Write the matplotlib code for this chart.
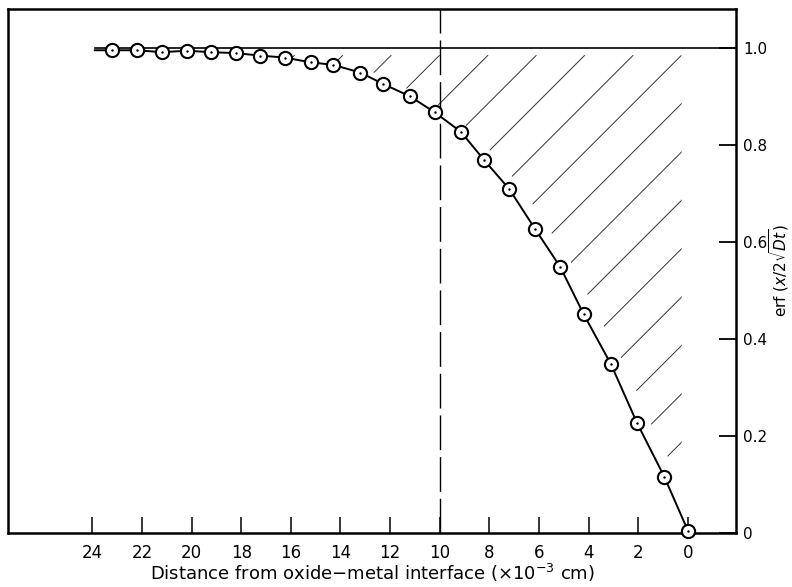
import numpy as np
import matplotlib
matplotlib.use('Agg')
import matplotlib.pyplot as plt
from matplotlib.collections import LineCollection
from matplotlib.patches import Polygon

# distance from interface (x10^-3 cm) and erf values
distance = [23.2, 22.2, 21.2, 20.2, 19.2, 18.2, 17.25, 16.25, 15.2, 14.3, 13.2, 12.3,
            11.2, 10.2, 9.15, 8.2, 7.2, 6.15, 5.15, 4.2, 3.1, 2.05, 0.95, 0.0]
erf_val = [0.995, 0.995, 0.991, 0.994, 0.991, 0.989, 0.984, 0.980, 0.970, 0.965, 0.949, 0.926,
           0.900, 0.867, 0.827, 0.768, 0.709, 0.626, 0.549, 0.451, 0.348, 0.227, 0.116, 0.005]

curve_start = 23.9     # where the drawn curve and the 1.0 line begin
marker_line_x = 10     # dashed vertical
hatch_right = 0.25     # right edge of hatched area
hatch_top = 0.985
hatch_step = 1.95

x_ticks = [24, 22, 20, 18, 16, 14, 12, 10, 8, 6, 4, 2, 0]
y_ticks = [0, 0.2, 0.4, 0.6, 0.8, 1.0]
y_ticklabels = ['0', '0.2', '0.4', '0.6', '0.8', '1.0']

XLIM = (27.4, -1.94)
YLIM = (0, 1.08)

plt.rcParams['font.family'] = 'DejaVu Sans'
plt.rcParams['mathtext.default'] = 'regular'

fig = plt.figure(figsize=(7.92, 5.87), dpi=100)
ax = fig.add_axes([8 / 792, 54 / 587, 728 / 792, 524 / 587])
ax.set_xlim(*XLIM)
ax.set_ylim(*YLIM)

# curve + points
ax.plot([curve_start] + distance, [erf_val[0]] + erf_val, '-', color='black', lw=1.4, zorder=3)
ax.plot(distance, erf_val, 'o', ms=9.5, mfc='white', mec='black', mew=1.5, zorder=4, clip_on=False)
ax.plot(distance, erf_val, '.', ms=1.5, color='black', zorder=5, clip_on=False)

# reference lines
ax.plot([curve_start, XLIM[1]], [1.0, 1.0], '-', color='black', lw=1.2, zorder=2)
ax.axvline(marker_line_x, color='black', lw=1.0, dashes=(25, 5), zorder=2)

# hatched area between the curve and 1.0, drawn as sparse 45 degree strokes
gap = 0.55
dx = np.array(distance) - gap
dy = np.array(erf_val)
keep = (dx > hatch_right) & (np.array(distance) < 17)
y_at_right = np.interp(hatch_right, dx[::-1], dy[::-1])
poly_x = list(dx[keep]) + [hatch_right, hatch_right, 17]
poly_y = list(dy[keep]) + [y_at_right, hatch_top, hatch_top]
clip = Polygon(np.column_stack([poly_x, poly_y]), closed=True, fill=False, lw=0,
               transform=ax.transData)
ax.add_patch(clip)
clip.set_visible(False)

# slope for 45 degrees on screen
k = ((YLIM[1] - YLIM[0]) / 524) / ((XLIM[0] - XLIM[1]) / 728)
segs = []
for c in np.arange(hatch_right - 20 * hatch_step, 20, hatch_step):
    segs.append([(c, hatch_top), (c + 30, hatch_top - k * 30)])
lc = LineCollection(segs, colors='#333333', linewidths=0.7, zorder=1)
ax.add_collection(lc)
lc.set_clip_path(clip)

# axes styling
for s in ax.spines.values():
    s.set_linewidth(1.8)
ax.set_xticks(x_ticks)
ax.set_xticklabels([str(t) for t in x_ticks])
ax.yaxis.tick_right()
ax.yaxis.set_label_position('right')
ax.set_yticks(y_ticks)
ax.set_yticklabels(y_ticklabels)
ax.tick_params(axis='x', direction='in', length=11.5, width=1.1, pad=8, labelsize=12)
ax.tick_params(axis='y', direction='in', length=12, width=1.3, pad=5, labelsize=11)
ax.set_xlabel(r'Distance from oxide$-$metal interface ($\times10^{-3}$ cm)', fontsize=13, labelpad=0)
ax.set_ylabel(r'erf $(\mathit{x}/2\sqrt{\mathit{Dt}})$', fontsize=11)
ax.yaxis.set_label_coords(1.043, 0.5)

fig.savefig('out.png', dpi=100)
